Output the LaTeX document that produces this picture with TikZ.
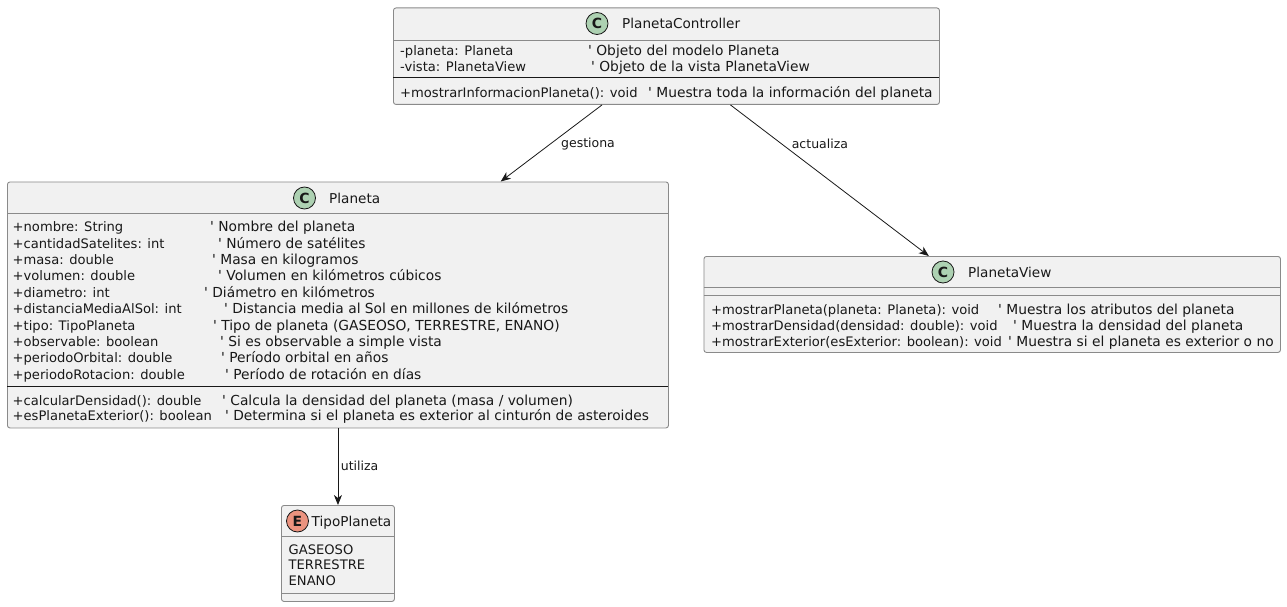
\documentclass[tikz,border=0pt]{standalone}
\usepackage{fontspec}
\setmainfont{DejaVu Sans}
\newfontfamily\umlfam{DejaVu Sans}
\usetikzlibrary{arrows.meta}
\definecolor{boxfill}{HTML}{F1F1F1}
\definecolor{boxline}{HTML}{8A8A8A}
\definecolor{cfill}{HTML}{ADD1B2}
\definecolor{efill}{HTML}{EB937F}
\definecolor{ink}{HTML}{181818}
\newcommand\codef{\umlfam\fontsize{13.1}{16}\selectfont}
\newcommand\cmtf{\umlfam\fontsize{13.8}{16}\selectfont}
\newcommand\ttlf{\umlfam\fontsize{13.6}{16}\selectfont}
\newcommand\lblf{\umlfam\fontsize{12.5}{15}\selectfont}
\tikzset{
 umlbox/.style={draw=boxline, fill=boxfill, rounded corners=2.5pt, line width=0.9pt, inner sep=0, anchor=north west},
 graysep/.style={draw=boxline, line width=0.9pt},
 blacksep/.style={draw=ink, line width=1pt},
 badge/.style={circle, draw=ink, line width=0.8pt, minimum size=22pt, inner sep=0, text=ink, font=\umlfam\fontsize{14}{14}\selectfont\bfseries},
 code/.style={anchor=base west, inner sep=0, font=\codef, text=ink},
 cmt/.style={anchor=base west, inner sep=0, font=\cmtf, text=ink},
 ttl/.style={anchor=base west, inner sep=0, font=\ttlf, text=ink},
 conn/.style={draw=ink, line width=0.8pt, -{Stealth[length=10pt,width=8pt,inset=3pt]}},
 lbl/.style={font=\lblf, text=ink, inner sep=0, anchor=west},
}
\begin{document}
\begin{tikzpicture}[x=1pt,y=-1pt]
\useasboundingbox (0,0) rectangle (1287,607);
% class boxes
\node[umlbox, minimum width=546pt, minimum height=96.5pt] (ctrl) at (393,7.5) {};
\node[umlbox, minimum width=661pt, minimum height=246pt] (plan) at (7,181.5) {};
\node[umlbox, minimum width=576.5pt, minimum height=96pt] (view) at (703.5,256) {};
\node[umlbox, minimum width=113pt, minimum height=96pt] (tipo) at (281,505) {};

% PlanetaController
\node[badge, fill=cfill] (ctrlB) at (597,23.5) {C};
\node[ttl] (ctrlT) at (622,28.5) {PlanetaController};
\draw[graysep] (393,40) -- (939,40);
\node[code] (c1) at (400,56) {-planeta: Planeta};
\node[cmt] (c1c) at (588,56) {' Objeto del modelo Planeta};
\node[code] (c2) at (400,72) {-vista: PlanetaView};
\node[cmt] (c2c) at (591,72) {' Objeto de la vista PlanetaView};
\draw[blacksep] (393,78) -- (939,78);
\node[code] (c3) at (400,98) {+mostrarInformacionPlaneta(): void};
\node[cmt] (c3c) at (648,98) {' Muestra toda la información del planeta};

% Planeta
\node[badge, fill=cfill] (planB) at (304.5,198) {C};
\node[ttl] (planT) at (329,203) {Planeta};
\draw[graysep] (7,213) -- (668,213);
\node[code] (p1) at (12.5,231.7) {+nombre: String};
\node[cmt] (p1c) at (210,231.7) {' Nombre del planeta};
\node[code] (p2) at (12.5,248.1) {+cantidadSatelites: int};
\node[cmt] (p2c) at (218,248.1) {' Número de satélites};
\node[code] (p3) at (12.5,264.5) {+masa: double};
\node[cmt] (p3c) at (212,264.5) {' Masa en kilogramos};
\node[code] (p4) at (12.5,280.9) {+volumen: double};
\node[cmt] (p4c) at (218,280.9) {' Volumen en kilómetros cúbicos};
\node[code] (p5) at (12.5,297.3) {+diametro: int};
\node[cmt] (p5c) at (204,297.3) {' Diámetro en kilómetros};
\node[code] (p6) at (12.5,313.7) {+distanciaMediaAlSol: int};
\node[cmt] (p6c) at (224,313.7) {' Distancia media al Sol en millones de kilómetros};
\node[code] (p7) at (12.5,330.1) {+tipo: TipoPlaneta};
\node[cmt] (p7c) at (213,330.1) {' Tipo de planeta (GASEOSO, TERRESTRE, ENANO)};
\node[code] (p8) at (12.5,346.5) {+observable: boolean};
\node[cmt] (p8c) at (220,346.5) {' Si es observable a simple vista};
\node[code] (p9) at (12.5,362.9) {+periodoOrbital: double};
\node[cmt] (p9c) at (221,362.9) {' Período orbital en años};
\node[code] (p10) at (12.5,379.3) {+periodoRotacion: double};
\node[cmt] (p10c) at (225,379.3) {' Período de rotación en días};
\draw[blacksep] (7,386.5) -- (668,386.5);
\node[code] (pm1) at (12.5,405.2) {+calcularDensidad(): double};
\node[cmt] (pm1c) at (222,405.2) {' Calcula la densidad del planeta (masa / volumen)};
\node[code] (pm2) at (12.5,420.8) {+esPlanetaExterior(): boolean};
\node[cmt] (pm2c) at (225,420.8) {' Determina si el planeta es exterior al cinturón de asteroides};

% PlanetaView
\node[badge, fill=cfill] (viewB) at (943,272) {C};
\node[ttl] (viewT) at (968,277) {PlanetaView};
\draw[graysep] (703.5,287.5) -- (1280,287.5);
\draw[graysep] (703.5,295.5) -- (1280,295.5);
\node[code] (v1) at (711,314) {+mostrarPlaneta(planeta: Planeta): void};
\node[cmt] (v1c) at (998,314) {' Muestra los atributos del planeta};
\node[code] (v2) at (711,330) {+mostrarDensidad(densidad: double): void};
\node[cmt] (v2c) at (1013,330) {' Muestra la densidad del planeta};
\node[code] (v3) at (711,346) {+mostrarExterior(esExterior: boolean): void};
\node[cmt] (v3c) at (1008,346) {' Muestra si el planeta es exterior o no};

% TipoPlaneta
\node[badge, fill=efill] (tipoB) at (297.5,521) {E};
\node[ttl] (tipoT) at (311.5,526) {TipoPlaneta};
\draw[graysep] (281,536.5) -- (394,536.5);
\node[code] (t1) at (288.5,554) {GASEOSO};
\node[code] (t2) at (288.5,569.5) {TERRESTRE};
\node[code] (t3) at (288.5,585) {ENANO};
\draw[graysep] (281,593.5) -- (394,593.5);

% connectors
\draw[conn] (ctrl) -- (plan) node[lbl, pos=0.506, xshift=10pt] (lg) {gestiona};
\draw[conn] (ctrl) -- (view) node[lbl, pos=0.257, xshift=10pt] (la) {actualiza};
\draw[conn] (plan) -- (tipo) node[lbl, pos=0.49, xshift=2.5pt] (lu) {utiliza};
\end{tikzpicture}
\end{document}
